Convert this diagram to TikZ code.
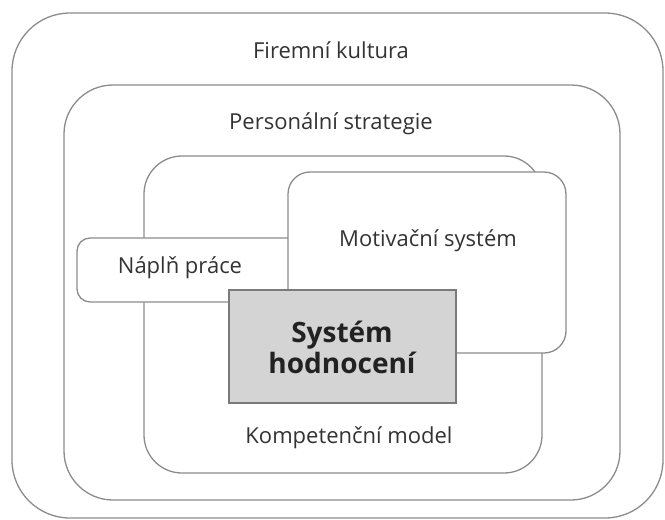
\documentclass[tikz,border=0pt]{standalone}
\usepackage{fontspec}
\setmainfont{Open Sans}
\definecolor{edge}{HTML}{8C8C8C}
\definecolor{coreedge}{HTML}{7A7A7A}
\definecolor{txt}{HTML}{333333}
\definecolor{coretxt}{HTML}{222222}
\definecolor{core}{HTML}{D4D4D4}
\begin{document}
\begin{tikzpicture}[x=1pt,y=-1pt,
  frame/.style={draw=edge, line width=1.3pt, fill=white, inner sep=0pt, outer sep=0pt},
  corebox/.style={draw=coreedge, line width=1.3pt, fill=core, inner sep=0pt, outer sep=0pt},
  lbl/.style={text=txt, font=\fontsize{22}{24}\selectfont, inner sep=0pt},
  corelbl/.style={text=coretxt, font=\bfseries\fontsize{28}{31}\selectfont, inner sep=0pt, align=center},
]
\useasboundingbox (0,0) rectangle (665,520);
\node[frame, rounded corners=58pt, minimum width=651pt, minimum height=505pt] (firma) at (337.5,265.5) {};
\node[frame, rounded corners=49pt, minimum width=556pt, minimum height=415pt] (strategie) at (342,292.5) {};
\node[frame, rounded corners=38pt, minimum width=398pt, minimum height=317pt] (kompetence) at (343,314.5) {};
\node[frame, rounded corners=13pt, minimum width=223pt, minimum height=64pt] (naplnbox) at (188.5,270) {};
\node[frame, rounded corners=22pt, minimum width=278pt, minimum height=181pt] (motivace) at (427,262.5) {};
\node[corebox, minimum width=227pt, minimum height=113pt] (hodnoceni) at (342.5,346.5) {};

\node[lbl] (tfirma) at (331,50) {Firemní kultura};
\node[lbl] (tstrategie) at (331,124) {Personální strategie};
\node[lbl] (tnapln) at (180,268) {Náplň práce};
\node[lbl] (tmotivace) at (428,241) {Motivační systém};
\node[corelbl] (thodnoceni) at (342,347) {Systém\\hodnocení};
\node[lbl] (tkompetence) at (349,438) {Kompetenční model};
\end{tikzpicture}
\end{document}
